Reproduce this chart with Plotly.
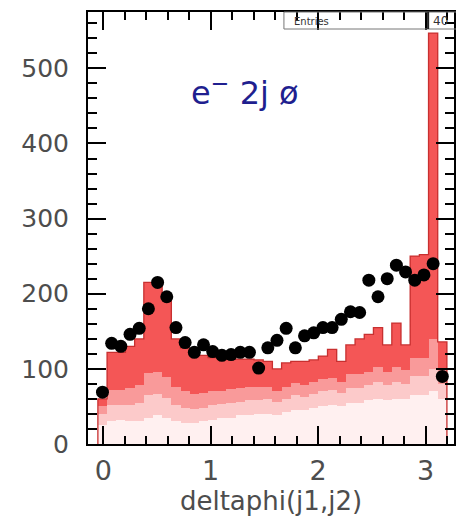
import numpy as np
import plotly.graph_objects as go

# ---------------- data ----------------
bin_lo, bin_hi, n_bins = -0.05, 3.199, 38

data_counts = [69, 134, 130, 146, 154, 180, 215, 196, 155, 135,
               122, 132, 123, 118, 119, 122, 122, 101, 128, 138,
               154, 128, 144, 148, 155, 155, 166, 176, 175, 218,
               196, 220, 238, 229, 218, 225, 240, 90]

mc_total = [60, 122, 122, 130, 140, 215, 215, 200, 140, 128,
            122, 118, 115, 115, 114, 113, 113, 112, 110, 100,
            108, 110, 110, 112, 117, 126, 110, 132, 140, 146,
            155, 132, 161, 132, 250, 252, 547, 136]

# stacked MC components (bottom -> top)
mc_l1 = [25, 30, 32, 30, 30, 35, 38, 35, 30, 28,
         28, 30, 32, 35, 35, 38, 38, 40, 40, 38,
         42, 45, 45, 48, 50, 52, 50, 55, 55, 58,
         60, 58, 60, 60, 65, 65, 70, 60]
mc_l2 = [15, 22, 20, 22, 24, 30, 28, 26, 22, 20,
         18, 18, 20, 18, 20, 18, 20, 18, 20, 18,
         18, 20, 18, 18, 20, 20, 18, 20, 20, 20,
         22, 20, 22, 20, 25, 25, 30, 20]
mc_l3 = [10, 20, 20, 22, 24, 30, 30, 28, 24, 22,
         20, 20, 18, 18, 18, 18, 18, 18, 16, 14,
         16, 16, 16, 16, 16, 16, 14, 18, 18, 18,
         20, 18, 20, 18, 25, 25, 40, 20]
mc_l4 = [10, 50, 50, 56, 62, 120, 119, 111, 64, 58,
         56, 50, 45, 44, 41, 39, 37, 36, 34, 30,
         32, 29, 31, 30, 31, 38, 28, 39, 47, 50,
         53, 36, 59, 34, 135, 137, 407, 36]

x_tick_vals = [0, 1, 2, 3]
x_title = "deltaphi(j1,j2)"

# ---------------- figure ----------------
bin_edges = np.linspace(bin_lo, bin_hi, n_bins + 1)
bin_centers = 0.5 * (bin_edges[:-1] + bin_edges[1:])
bin_width = bin_edges[1] - bin_edges[0]

fig = go.Figure()
layers = [(mc_l1, "#fff0f0"), (mc_l2, "#fccaca"), (mc_l3, "#f99a9a"), (mc_l4, "#f45656")]
for vals, col in layers:
    fig.add_trace(go.Bar(x=bin_centers, y=vals, width=bin_width,
                         marker=dict(color=col, line=dict(width=0)),
                         showlegend=False, hoverinfo="skip"))

# histogram envelope
step_x = [bin_edges[0]] + list(bin_edges)
step_y = [0] + list(mc_total) + [0]
fig.add_trace(go.Scatter(x=step_x, y=step_y, mode="lines", line_shape="hv",
                         line=dict(color="#c83030", width=1.3),
                         showlegend=False, hoverinfo="skip"))

fig.add_trace(go.Scatter(x=bin_centers, y=data_counts, mode="markers",
                         marker=dict(color="black", size=13),
                         showlegend=False))

label_font = dict(family="DejaVu Sans", color="#4d4d4d")

fig.update_layout(
    width=456, height=519,
    margin=dict(l=88, r=0, t=12, b=75),
    barmode="stack", bargap=0,
    plot_bgcolor="white", paper_bgcolor="white",
    showlegend=False,
)
fig.update_xaxes(
    range=[-0.142, 3.265], showline=True, linecolor="black", linewidth=2,
    mirror="ticks", ticks="inside", ticklen=18, tickwidth=2, tickcolor="black",
    tickmode="array", tickvals=x_tick_vals,
    minor=dict(ticks="inside", ticklen=8, tickwidth=2, tickcolor="black",
               dtick=0.2, tick0=0),
    showgrid=False, zeroline=False,
    tickfont=dict(size=27, **label_font), ticklabelstandoff=2,
    title=dict(text=x_title, font=dict(size=26, **label_font), standoff=5),
)
fig.update_yaxes(
    range=[0, 575], showline=True, linecolor="black", linewidth=2,
    mirror="ticks", ticks="inside", ticklen=18, tickwidth=2, tickcolor="black",
    dtick=100, tick0=0,
    minor=dict(ticks="inside", ticklen=9, tickwidth=2, tickcolor="black",
               dtick=20, tick0=0),
    showgrid=False, zeroline=False,
    tickfont=dict(size=25, **label_font), ticklabelstandoff=12,
)

# channel label
fig.add_annotation(x=0.8, y=470, xref="x", yref="y", text="e<sup>−</sup> 2j ø",
                   showarrow=False, xanchor="left", yanchor="middle",
                   font=dict(family="DejaVu Sans", size=32, color="#1f1f8f"))

# stats box (cut off at the top right)
px = lambda p: (p - 88) / 368.0
py = lambda p: (444 - p) / 432.0
fig.add_shape(type="rect", xref="paper", yref="paper",
              x0=px(285), x1=px(430), y0=py(29), y1=py(12),
              line=dict(color="#777777", width=1), fillcolor="rgba(0,0,0,0)")
fig.add_shape(type="rect", xref="paper", yref="paper",
              x0=px(430), x1=px(470), y0=py(29), y1=py(12),
              line=dict(color="#777777", width=1), fillcolor="rgba(0,0,0,0)")
fig.add_shape(type="line", xref="paper", yref="paper",
              x0=px(430), x1=px(430), y0=py(29), y1=py(12),
              line=dict(color="#222222", width=2))
fig.add_annotation(x=px(293), y=py(21), xref="paper", yref="paper", text="Entries",
                   showarrow=False, xanchor="left", yanchor="middle",
                   font=dict(family="DejaVu Sans", size=10, color="#333333"))
fig.add_annotation(x=px(433), y=py(21), xref="paper", yref="paper", text="40",
                   showarrow=False, xanchor="left", yanchor="middle",
                   font=dict(family="DejaVu Sans", size=12, color="#333333"))

fig.write_html("out.html")
